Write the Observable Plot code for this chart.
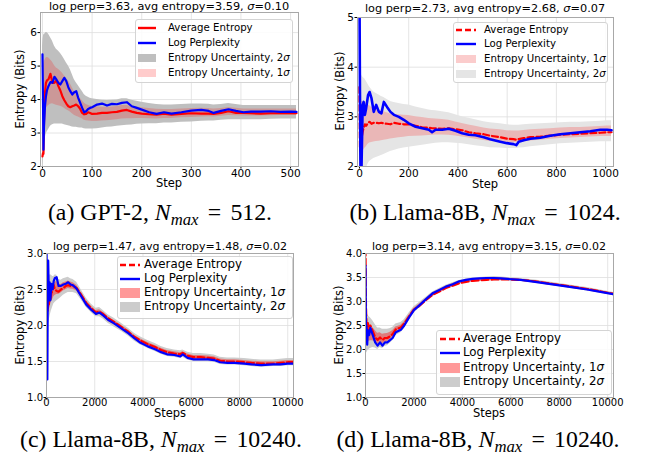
<!DOCTYPE html>
<html><head><meta charset="utf-8">
<script src="https://cdn.jsdelivr.net/npm/d3@7"></script>
<script src="https://cdn.jsdelivr.net/npm/@observablehq/plot@0.6"></script>
<style>
body{margin:0;background:#fff;}
#root{position:relative;width:645px;height:467px;overflow:hidden;font-family:"DejaVu Sans",sans-serif;color:#000;}
#root svg.plot{position:absolute;}
.t{position:absolute;white-space:nowrap;transform:translate(-50%,-50%);line-height:1;}
.yl{position:absolute;white-space:nowrap;transform:translate(-50%,-50%) rotate(-90deg);line-height:1;}
.leg{position:absolute;border:1px solid #d4d4d4;border-radius:3px;background:rgba(255,255,255,0.85);box-sizing:border-box;}
.lt{position:absolute;white-space:nowrap;transform:translateY(-50%);line-height:1;}
.cap{position:absolute;white-space:nowrap;transform:translate(-50%,-50%);font-family:"Liberation Serif","DejaVu Serif",serif;font-size:23.8px;line-height:1;}
.cap sub{font-size:70%;vertical-align:-0.3em;line-height:0;}
.cap .eq{margin:0 0.14em;}
</style>
</head><body><div id="root"></div>
<script>
// ---------- (a) GPT-2, N_max = 512 ----------
const aStep = [0,1,2,3,5,7,9,12,16,20,24,28,32,36,40,44,48,52,56,60,64,68,72,76,80,84,88,92,96,100,110,120,130,140,150,160,170,180,190,200,215,230,245,260,280,300,320,335,345,360,375,390,405,420,440,460,480,500,512];
const aLogPerp = [5.35,4.0,2.5,3.2,3.8,4.1,4.27,4.4,4.52,4.5,4.68,4.6,4.5,4.45,4.55,4.65,4.55,4.37,4.25,4.15,4.22,4.25,4.05,3.9,3.75,3.62,3.65,3.72,3.75,3.77,3.85,3.88,3.82,3.87,3.86,3.9,3.92,3.8,3.75,3.7,3.62,3.57,3.62,3.58,3.62,3.67,3.69,3.66,3.6,3.66,3.71,3.66,3.62,3.64,3.64,3.65,3.63,3.64,3.63];
const aEntropy = [2.3,2.4,2.38,3.3,4.2,4.5,4.57,4.6,4.77,4.5,4.5,4.57,4.4,4.27,4.1,3.98,3.88,3.8,3.77,3.8,3.82,3.85,3.8,3.72,3.6,3.56,3.57,3.62,3.6,3.57,3.58,3.6,3.6,3.62,3.63,3.67,3.69,3.64,3.6,3.58,3.56,3.55,3.58,3.55,3.57,3.59,3.58,3.58,3.57,3.6,3.65,3.6,3.6,3.59,3.58,3.59,3.59,3.59,3.59];
const aHi2 = [5.6,5.8,5.9,5.95,5.96,6.0,6.0,5.96,5.85,5.75,5.6,5.5,5.45,5.38,5.3,5.2,5.1,5.01,4.9,4.75,4.6,4.5,4.42,4.33,4.25,4.15,4.1,4.07,4.04,4.02,4.0,3.98,3.97,3.98,3.99,4.02,4.02,3.98,3.95,3.92,3.88,3.85,3.84,3.84,3.85,3.87,3.87,3.86,3.84,3.85,3.88,3.85,3.82,3.82,3.82,3.82,3.82,3.82,3.82];
const aLo2 = [1.8,2.0,2.3,2.6,2.8,2.95,3.02,3.1,3.2,3.25,3.27,3.27,3.27,3.27,3.27,3.25,3.23,3.22,3.2,3.18,3.17,3.17,3.16,3.15,3.15,3.13,3.12,3.12,3.12,3.12,3.13,3.15,3.17,3.18,3.2,3.22,3.23,3.24,3.26,3.27,3.28,3.28,3.3,3.3,3.32,3.33,3.35,3.36,3.36,3.38,3.4,3.4,3.4,3.4,3.4,3.41,3.42,3.42,3.42];
const aXTicks = [0,100,200,300,400,500];
const aYTicks = [2,3,4,5,6];

// ---------- (b) Llama-8B, N_max = 1024 ----------
const bStep = [0,2,4,8,13,17,22,27,35,41,49,58,68,79,89,99,112,126,140,160,180,200,228,255,282,295,309,336,363,390,417,444,471,505,531,572,599,626,637,647,667,694,735,775,816,857,897,938,979,1006,1024];
const bLogPerp = [5.6,3.5,2.0,1.9,3.24,3.30,3.04,3.17,3.44,3.50,3.37,3.10,3.24,3.10,3.07,3.30,3.20,3.10,3.04,3.0,2.94,2.87,2.80,2.77,2.74,2.69,2.74,2.74,2.76,2.72,2.67,2.64,2.63,2.59,2.55,2.50,2.47,2.45,2.43,2.50,2.53,2.56,2.58,2.62,2.65,2.67,2.69,2.71,2.74,2.74,2.73];
const bEntropy = [3.6,2.4,2.3,2.55,2.7,2.78,2.85,2.82,2.88,2.9,2.86,2.88,2.88,2.87,2.88,2.87,2.86,2.85,2.88,2.86,2.85,2.85,2.82,2.79,2.78,2.77,2.77,2.76,2.77,2.75,2.73,2.69,2.67,2.65,2.62,2.59,2.56,2.55,2.54,2.55,2.57,2.59,2.6,2.62,2.64,2.65,2.66,2.67,2.68,2.69,2.69];
const bHi2 = [3.9,3.88,3.86,3.84,3.8,3.78,3.76,3.72,3.65,3.6,3.55,3.5,3.47,3.44,3.41,3.39,3.35,3.31,3.29,3.27,3.25,3.24,3.2,3.17,3.14,3.13,3.12,3.10,3.08,3.04,3.0,2.97,2.94,2.9,2.88,2.86,2.84,2.83,2.83,2.83,2.84,2.85,2.86,2.87,2.88,2.89,2.89,2.9,2.91,2.92,2.92];
const bLo2 = [1.5,1.6,1.7,1.75,1.8,1.85,1.9,1.95,2.05,2.1,2.13,2.16,2.18,2.2,2.22,2.24,2.27,2.3,2.32,2.35,2.37,2.39,2.41,2.43,2.45,2.46,2.47,2.48,2.48,2.47,2.46,2.44,2.42,2.4,2.38,2.37,2.36,2.36,2.36,2.37,2.38,2.4,2.42,2.44,2.46,2.47,2.48,2.49,2.5,2.5,2.5];
const bXTicks = [0,200,400,600,800,1000];
const bYTicks = [2,3,4,5];

// ---------- (c) Llama-8B, N_max = 10240 ----------
const cStep = [0,20,35,50,70,100,130,160,200,250,300,350,420,500,600,700,800,900,1000,1100,1250,1450,1650,1850,2050,2200,2350,2550,2800,3100,3400,3650,3900,4200,4500,4750,5000,5300,5550,5650,5850,6100,6400,6700,6950,7200,7500,7800,8200,8500,8900,9400,9700,10000,10240];
const cLogPerp = [3.2,2.2,1.25,2.3,2.9,2.35,2.6,2.35,2.58,2.5,2.62,2.66,2.67,2.55,2.55,2.57,2.58,2.6,2.57,2.56,2.51,2.40,2.29,2.22,2.16,2.18,2.14,2.08,2.03,1.96,1.89,1.82,1.76,1.71,1.67,1.63,1.6,1.59,1.57,1.6,1.55,1.53,1.53,1.53,1.52,1.49,1.48,1.48,1.47,1.46,1.45,1.46,1.46,1.47,1.47];
const cEntropy = [2.3,2.28,2.25,2.2,2.28,2.3,2.42,2.35,2.45,2.48,2.56,2.5,2.48,2.47,2.5,2.52,2.55,2.56,2.55,2.55,2.52,2.42,2.31,2.24,2.18,2.19,2.16,2.1,2.05,1.98,1.91,1.84,1.79,1.74,1.70,1.66,1.63,1.61,1.6,1.62,1.58,1.56,1.56,1.55,1.54,1.51,1.5,1.5,1.49,1.48,1.47,1.47,1.48,1.49,1.49];
const cHi2 = [2.9,2.82,2.76,2.72,2.7,2.7,2.7,2.7,2.7,2.68,2.68,2.7,2.7,2.64,2.63,2.65,2.66,2.67,2.65,2.64,2.6,2.49,2.38,2.3,2.24,2.25,2.21,2.15,2.1,2.03,1.96,1.89,1.84,1.79,1.75,1.71,1.68,1.66,1.65,1.66,1.63,1.61,1.61,1.6,1.59,1.56,1.55,1.55,1.54,1.53,1.52,1.52,1.53,1.54,1.54];
const cLo2 = [1.7,1.8,1.9,1.95,2.0,2.05,2.1,2.15,2.2,2.25,2.3,2.32,2.34,2.36,2.39,2.42,2.44,2.46,2.46,2.46,2.44,2.35,2.25,2.18,2.12,2.12,2.09,2.03,1.98,1.92,1.85,1.78,1.73,1.68,1.64,1.6,1.57,1.56,1.54,1.56,1.52,1.5,1.5,1.5,1.49,1.46,1.45,1.45,1.44,1.43,1.42,1.43,1.43,1.44,1.44];
const cXTicks = [0,2000,4000,6000,8000,10000];
const cYTicks = [1.0,1.5,2.0,2.5,3.0];

// ---------- (d) Llama-8B, N_max = 10240 ----------
const dStep = [0,20,40,70,100,150,200,300,400,500,600,700,800,900,1000,1120,1250,1460,1600,1800,2000,2200,2500,2770,3050,3320,3600,3870,4150,4420,4700,5000,5300,5600,5850,6400,7000,7800,8500,9150,9700,10240];
const dLogPerp = [3.75,2.3,2.5,2.1,2.4,2.3,2.45,2.3,2.15,2.08,2.15,2.08,2.15,2.15,2.19,2.24,2.36,2.41,2.5,2.67,2.82,2.91,3.05,3.17,3.24,3.31,3.36,3.42,3.45,3.47,3.48,3.49,3.49,3.48,3.47,3.45,3.41,3.35,3.3,3.25,3.2,3.15];
const dEntropy = [4.1,2.9,2.55,2.35,2.55,2.4,2.5,2.38,2.25,2.2,2.25,2.2,2.24,2.24,2.27,2.32,2.42,2.46,2.54,2.69,2.83,2.9,3.03,3.14,3.21,3.28,3.33,3.38,3.41,3.43,3.44,3.45,3.46,3.46,3.46,3.45,3.42,3.36,3.31,3.26,3.21,3.16];
const dHi2 = [3.0,2.85,2.8,2.75,2.72,2.68,2.66,2.6,2.52,2.45,2.45,2.42,2.42,2.42,2.43,2.46,2.53,2.56,2.62,2.76,2.89,2.97,3.09,3.2,3.27,3.34,3.39,3.44,3.47,3.49,3.5,3.51,3.52,3.51,3.5,3.48,3.45,3.39,3.34,3.29,3.24,3.19];
const dLo2 = [1.85,1.88,1.92,1.95,1.98,2.0,2.02,2.04,2.03,2.0,2.04,2.02,2.06,2.08,2.12,2.18,2.29,2.35,2.43,2.6,2.76,2.85,2.99,3.1,3.17,3.25,3.3,3.36,3.39,3.41,3.42,3.43,3.43,3.43,3.43,3.42,3.38,3.32,3.27,3.22,3.17,3.12];
const dXTicks = [0,2000,4000,6000,8000,10000];
const dYTicks = [1.0,1.5,2.0,2.5,3.0,3.5,4.0];

const titles = [
  "log perp=3.63, avg entropy=3.59, <i>σ</i>=0.10",
  "log perp=2.73, avg entropy=2.68, <i>σ</i>=0.07",
  "log perp=1.47, avg entropy=1.48, <i>σ</i>=0.02",
  "log perp=3.14, avg entropy=3.15, <i>σ</i>=0.02"
];
const captions = [
  "(a) GPT-2, <i>N</i><sub><i>max</i></sub><span class='eq'> = </span>512.",
  "(b) Llama-8B, <i>N</i><sub><i>max</i></sub><span class='eq'> = </span>1024.",
  "(c) Llama-8B, <i>N</i><sub><i>max</i></sub><span class='eq'> = </span>10240.",
  "(d) Llama-8B, <i>N</i><sub><i>max</i></sub><span class='eq'> = </span>10240."
];
const legendAvg = "Average Entropy", legendLog = "Log Perplexity";
const legend1 = "Entropy Uncertainty, 1<i>σ</i>", legend2 = "Entropy Uncertainty, 2<i>σ</i>";

const root = document.getElementById("root");
function addDiv(cls, html, x, y, style) {
  const d = document.createElement("div");
  d.className = cls; d.innerHTML = html;
  d.style.left = x + "px"; d.style.top = y + "px";
  if (style) Object.assign(d.style, style);
  root.appendChild(d); return d;
}

function panel(cfg) {
  const rows = cfg.step.map((s, i) => {
    const mid = (cfg.hi2[i] + cfg.lo2[i]) / 2, q = (cfg.hi2[i] - cfg.lo2[i]) / 4;
    return {step: s, ent: cfg.ent[i], perp: cfg.perp[i], lo2: cfg.lo2[i], hi2: cfg.hi2[i], lo1: mid - q, hi1: mid + q};
  });
  const chart = Plot.plot({
    width: cfg.w, height: cfg.h,
    marginLeft: cfg.ml, marginRight: cfg.mr, marginTop: cfg.mt, marginBottom: cfg.mb,
    x: {domain: cfg.xd},
    y: {domain: cfg.yd},
    style: {background: "transparent", fontFamily: "DejaVu Sans", fontSize: "10px", color: "#000", overflow: "visible"},
    marks: [
      Plot.gridX(cfg.xt, {stroke: "#dedede", strokeOpacity: 1, strokeWidth: 0.8}),
      Plot.gridY(cfg.yt, {stroke: "#dedede", strokeOpacity: 1, strokeWidth: 0.8}),
      Plot.areaY(rows, {x: "step", y1: "lo2", y2: "hi2", fill: cfg.c2, fillOpacity: 1, clip: true}),
      Plot.areaY(rows, {x: "step", y1: "lo1", y2: "hi1", fill: "#ff0000", fillOpacity: cfg.a1, clip: true}),
      Plot.lineY(rows, {x: "step", y: "ent", stroke: "#ff0000", strokeWidth: 2.2, strokeDasharray: cfg.dash, clip: true}),
      Plot.lineY(rows, {x: "step", y: "perp", stroke: "#0000ff", strokeWidth: cfg.bw, clip: true}),
      Plot.axisX(cfg.xt, {tickSize: 2.5, tickPadding: cfg.xpad, fontSize: cfg.fs, label: null, tickFormat: d3.format("d"), stroke: "#000"}),
      Plot.axisY(cfg.yt, {tickSize: 2.5, tickPadding: 1, fontSize: cfg.fs, label: null, tickFormat: cfg.yf, stroke: "#000"}),
      Plot.frame({stroke: "#a8a8a8", strokeWidth: 1})
    ]
  });
  chart.classList.add("plot");
  chart.style.left = cfg.x + "px"; chart.style.top = cfg.y + "px";
  root.appendChild(chart);
  addDiv("t", cfg.title, cfg.tx, cfg.ty, {fontSize: cfg.tfs + "px"});
  addDiv("t", cfg.xl, cfg.xlx, cfg.xly, {fontSize: "11.5px"});
  addDiv("yl", "Entropy (Bits)", cfg.ylx, cfg.yly, {fontSize: "11.5px"});
  const L = cfg.leg;
  addDiv("leg", "", L.x, L.y, {width: L.w + "px", height: L.h + "px"});
  L.rows.forEach(r => {
    if (r.type === "line") {
      const svg = `<svg width="${L.sw}" height="8" style="display:block"><line x1="0" y1="4" x2="${L.sw}" y2="4" stroke="${r.color}" stroke-width="2.4" ${r.dash ? `stroke-dasharray="${r.dash}"` : ""}/></svg>`;
      addDiv("lt", svg, L.sx, r.y, {});
    } else {
      addDiv("lt", "", L.sx, r.y, {width: L.sw + "px", height: L.ph + "px", background: r.color});
    }
    addDiv("lt", r.text, L.tx, r.y, {fontSize: L.fs + "px"});
  });
  addDiv("cap", cfg.cap, cfg.cx, cfg.cy, {});
}

panel({x: 0, y: 0, w: 320, h: 200, ml: 40, mr: 22, mt: 12, mb: 34, xd: [-4, 516], yd: [2, 6.6],
  step: aStep, ent: aEntropy, perp: aLogPerp, hi2: aHi2, lo2: aLo2, xt: aXTicks, yt: aYTicks, yf: d3.format("d"),
  c2: "#bfbfbf", a1: 0.2, dash: null, bw: 2.2, fs: 10.5, xpad: 0.5,
  title: titles[0], tx: 169, ty: 7, tfs: 11.3, xl: "Step", xlx: 169, xly: 184, ylx: 21, yly: 89,
  leg: {x: 135, y: 19, w: 158, h: 64, sx: 138, sw: 18, tx: 168, fs: 10.2, ph: 8, rows: [
    {type: "line", color: "#ff0000", y: 28, text: legendAvg},
    {type: "line", color: "#0000ff", y: 43, text: legendLog},
    {type: "patch", color: "#bfbfbf", y: 57.5, text: legend2},
    {type: "patch", color: "#ffcccc", y: 72.5, text: legend1}]},
  cap: captions[0], cx: 160, cy: 213});

panel({x: 320, y: 0, w: 325, h: 200, ml: 37, mr: 32, mt: 17, mb: 34, xd: [-8, 1032], yd: [2, 5],
  step: bStep, ent: bEntropy, perp: bLogPerp, hi2: bHi2, lo2: bLo2, xt: bXTicks, yt: bYTicks, yf: d3.format("d"),
  c2: "#e5e5e5", a1: 0.2, dash: "6,3", bw: 2.6, fs: 10.5, xpad: 0.5,
  title: titles[1], tx: 485, ty: 9, tfs: 11.3, xl: "Step", xlx: 485, xly: 185, ylx: 341, yly: 91,
  leg: {x: 453, y: 22, w: 155, h: 61, sx: 456, sw: 20, tx: 484, fs: 10.2, ph: 8, rows: [
    {type: "line", color: "#ff0000", dash: "6,3", y: 30, text: legendAvg},
    {type: "line", color: "#0000ff", y: 44, text: legendLog},
    {type: "patch", color: "#fbcccc", y: 59, text: legend1},
    {type: "patch", color: "#e5e5e5", y: 74, text: legend2}]},
  cap: captions[1], cx: 485, cy: 213});

panel({x: 0, y: 225, w: 320, h: 200, ml: 46, mr: 27, mt: 28, mb: 28, xd: [0, 10240], yd: [1, 3],
  step: cStep, ent: cEntropy, perp: cLogPerp, hi2: cHi2, lo2: cLo2, xt: cXTicks, yt: cYTicks, yf: d3.format(".1f"),
  c2: "#cccccc", a1: 0.4, dash: "7,3", bw: 2.2, fs: 10, xpad: -1,
  title: titles[2], tx: 170, ty: 246, tfs: 11, xl: "Steps", xlx: 170, xly: 414, ylx: 21, yly: 325,
  leg: {x: 117, y: 256, w: 176, h: 63, sx: 120, sw: 20, tx: 144, fs: 11.8, ph: 10, rows: [
    {type: "line", color: "#ff0000", dash: "6,3", y: 265, text: legendAvg},
    {type: "line", color: "#0000ff", y: 278.5, text: legendLog},
    {type: "patch", color: "#ff9999", y: 293, text: legend1},
    {type: "patch", color: "#cccccc", y: 307, text: legend2}]},
  cap: captions[2], cx: 161, cy: 440});

panel({x: 320, y: 225, w: 325, h: 200, ml: 45, mr: 32, mt: 28, mb: 28, xd: [0, 10240], yd: [1, 4],
  step: dStep, ent: dEntropy, perp: dLogPerp, hi2: dHi2, lo2: dLo2, xt: dXTicks, yt: dYTicks, yf: d3.format(".1f"),
  c2: "#cccccc", a1: 0.4, dash: "7,3", bw: 2.2, fs: 10, xpad: -1,
  title: titles[3], tx: 489, ty: 246, tfs: 11, xl: "Steps", xlx: 489, xly: 414, ylx: 340, yly: 325,
  leg: {x: 436, y: 330, w: 176, h: 65, sx: 440, sw: 20, tx: 463, fs: 11.8, ph: 10, rows: [
    {type: "line", color: "#ff0000", dash: "6,3", y: 339, text: legendAvg},
    {type: "line", color: "#0000ff", y: 353, text: legendLog},
    {type: "patch", color: "#ff9999", y: 367.5, text: legend1},
    {type: "patch", color: "#cccccc", y: 381.5, text: legend2}]},
  cap: captions[3], cx: 478, cy: 440});
</script>
</body></html>
